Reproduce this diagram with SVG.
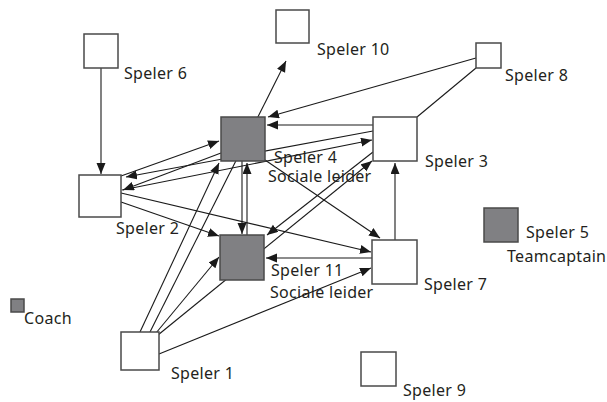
<svg xmlns="http://www.w3.org/2000/svg" width="607" height="402" viewBox="0 0 607 402">
  <style>
    .box { fill: #ffffff; stroke: #4a4a4a; stroke-width: 1.5; }
    .lead { fill: #808083; }
    .lbl { font-family: "Noto Sans", "Open Sans", sans-serif; font-size: 16px; letter-spacing: 0.3px; fill: #231f20; }
    .edge { stroke: #1a1a1a; stroke-width: 1.1; fill: none; }
    .arr { marker-end: url(#head); }
  </style>
  <defs>
    <marker id="head" markerUnits="userSpaceOnUse" markerWidth="12" markerHeight="10" refX="11" refY="4.5" orient="auto">
      <path d="M0,0 L11,4.5 L0,9 z" fill="#1a1a1a"/>
    </marker>
  </defs>
  <rect width="607" height="402" fill="#ffffff"/>

  <!-- connectors (drawn first so the boxes sit on top) -->
  <g id="connectors">
    <line class="edge arr" x1="101" y1="68" x2="101" y2="174"/>
    <line class="edge arr" x1="121" y1="176" x2="219" y2="141"/>
    <line class="edge arr" x1="221" y1="153" x2="123" y2="190"/>
    <line class="edge arr" x1="373" y1="131" x2="126" y2="177"/>
    <line class="edge arr" x1="122" y1="190" x2="372" y2="140"/>
    <line class="edge arr" x1="121" y1="193" x2="371" y2="252"/>
    <line class="edge arr" x1="121" y1="202" x2="219" y2="236"/>
    <line class="edge arr" x1="150" y1="332" x2="286" y2="61"/>
    <line class="edge arr" x1="476" y1="58" x2="268" y2="117"/>
    <line class="edge" x1="476" y1="68" x2="417" y2="117"/>
    <line class="edge arr" x1="373" y1="125" x2="267" y2="125"/>
    <line class="edge arr" x1="242" y1="161" x2="242" y2="234"/>
    <line class="edge arr" x1="247" y1="235" x2="247" y2="163"/>
    <line class="edge arr" x1="265" y1="160" x2="380" y2="238"/>
    <line class="edge arr" x1="373" y1="152" x2="267" y2="235"/>
    <line class="edge arr" x1="158" y1="335" x2="372" y2="161"/>
    <line class="edge arr" x1="372" y1="258" x2="266" y2="258"/>
    <line class="edge arr" x1="395" y1="240" x2="395" y2="163"/>
    <line class="edge arr" x1="140" y1="332" x2="219" y2="163"/>
    <line class="edge arr" x1="156" y1="333" x2="219" y2="257"/>
    <line class="edge arr" x1="159" y1="354" x2="371" y2="268"/>
  </g>

  <g id="speler6">
    <rect class="box" x="84" y="34" width="34" height="34"/>
    <text class="lbl" x="124" y="79">Speler 6</text>
  </g>
  <g id="speler10">
    <rect class="box" x="276" y="10" width="33" height="33"/>
    <text class="lbl" x="317" y="55">Speler 10</text>
  </g>
  <g id="speler8">
    <rect class="box" x="476" y="43" width="25" height="25"/>
    <text class="lbl" x="505" y="81">Speler 8</text>
  </g>
  <g id="speler4">
    <rect class="box lead" x="221" y="117" width="44" height="44"/>
    <text class="lbl" x="274" y="163">Speler 4</text>
    <text class="lbl" x="268" y="182">Sociale leider</text>
  </g>
  <g id="speler3">
    <rect class="box" x="373" y="117" width="44" height="44"/>
    <text class="lbl" x="425" y="167">Speler 3</text>
  </g>
  <g id="speler2">
    <rect class="box" x="79" y="175" width="42" height="42"/>
    <text class="lbl" x="116" y="234">Speler 2</text>
  </g>
  <g id="speler11">
    <rect class="box lead" x="220" y="235" width="44" height="45"/>
    <text class="lbl" x="271" y="276">Speler 11</text>
    <text class="lbl" x="270" y="298">Sociale leider</text>
  </g>
  <g id="speler7">
    <rect class="box" x="372" y="240" width="45" height="44"/>
    <text class="lbl" x="424" y="290">Speler 7</text>
  </g>
  <g id="speler5">
    <rect class="box lead" x="484" y="208" width="34" height="34"/>
    <text class="lbl" x="526" y="238">Speler 5</text>
    <text class="lbl" x="507" y="262">Teamcaptain</text>
  </g>
  <g id="coach">
    <rect class="box lead" x="11" y="299" width="13" height="13"/>
    <text class="lbl" x="24" y="324">Coach</text>
  </g>
  <g id="speler1">
    <rect class="box" x="121" y="332" width="38" height="38"/>
    <text class="lbl" x="171" y="379">Speler 1</text>
  </g>
  <g id="speler9">
    <rect class="box" x="361" y="352" width="35" height="34"/>
    <text class="lbl" x="403" y="396">Speler 9</text>
  </g>
</svg>
